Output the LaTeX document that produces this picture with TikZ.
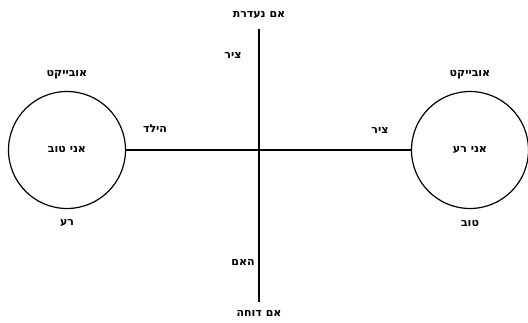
\documentclass[tikz,border=0pt]{standalone}
\usepackage{fontspec}
\newfontfamily\hebfont[Script=Hebrew]{DejaVu Sans}
\TeXXeTstate=1
\newcommand{\hebtxt}[1]{{\hebfont\bfseries\beginR #1\endR}}
\usetikzlibrary{positioning}

\begin{document}
\begin{tikzpicture}[x=1pt,y=-1pt,font=\fontsize{11}{13}\selectfont]
\useasboundingbox (0,0) rectangle (528,323);
\tikzset{pole/.style={circle,draw,line width=1.2pt,minimum size=117pt,inner sep=0pt},
lbl/.style={inner sep=1pt}}
% the two poles
\node[pole](good) at (67,150){\hebtxt{אני טוב}};
\node[pole](bad) at (470,150){\hebtxt{אני רע}};
\draw[line width=1.2pt](good.east)--(bad.west);
% vertical axis
\coordinate(top) at (259,29);
\coordinate(bottom) at (259,302);
\draw[line width=1.2pt](top)--(bottom);
\node[lbl](absent) at (259,15){\hebtxt{אם נעדרת}};
\node[lbl](reject) at (259,313){\hebtxt{אם דוחה}};
\node[lbl](axisv) at (233,55){\hebtxt{ציר}};
\node[lbl](mother) at (243,262){\hebtxt{האם}};
% labels near the poles
\node[lbl](objl) at (67,75){\hebtxt{אובייקט}};
\node[lbl](badl) at (67,223){\hebtxt{רע}};
\node[lbl](child) at (155,129){\hebtxt{הילד}};
\node[lbl](objr) at (470,75){\hebtxt{אובייקט}};
\node[lbl](goodr) at (470,224){\hebtxt{טוב}};
\node[lbl](axish) at (380,130){\hebtxt{ציר}};
\end{tikzpicture}
\end{document}
